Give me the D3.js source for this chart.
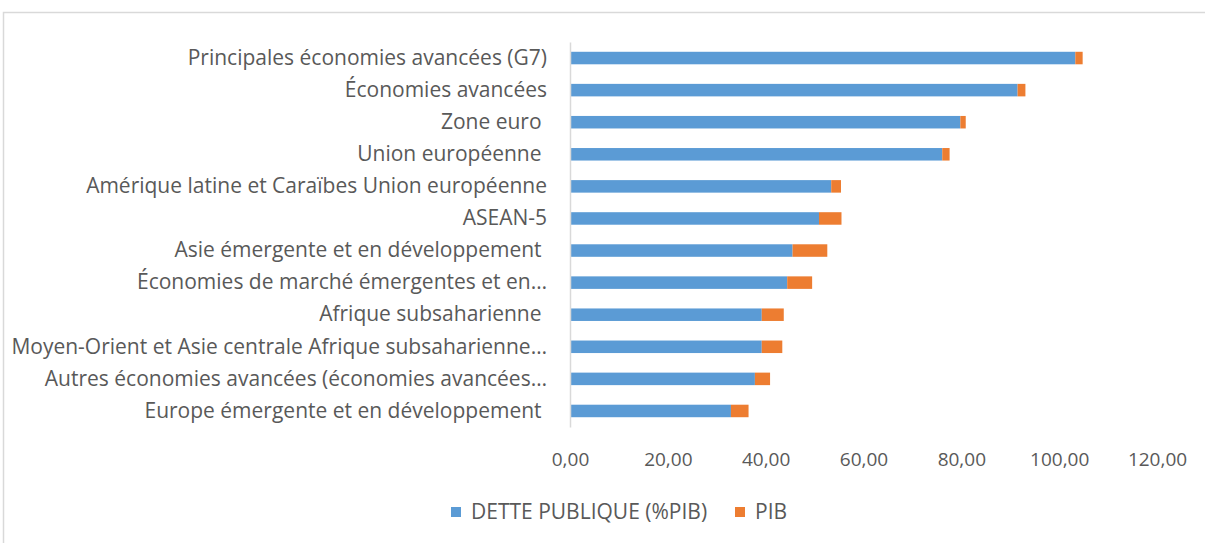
<!DOCTYPE html>
<html lang="fr">
<head>
<meta charset="utf-8">
<script src="https://d3js.org/d3.v7.min.js"></script>
<style>
  body { margin: 0; background: #fff; }
  svg text { font-family: "Open Sans", "Noto Sans", sans-serif; fill: #595959; }
</style>
</head>
<body>
<script>
// categories, top to bottom
const categories = [
  "Principales économies avancées (G7)",
  "Économies avancées",
  "Zone euro ",
  "Union européenne ",
  "Amérique latine et Caraïbes Union européenne",
  "ASEAN-5",
  "Asie émergente et en développement ",
  "Économies de marché émergentes et en…",
  "Afrique subsaharienne ",
  "Moyen-Orient et Asie centrale Afrique subsaharienne…",
  "Autres économies avancées (économies avancées…",
  "Europe émergente et en développement "
];
// DETTE PUBLIQUE (%PIB)
const dette = [103.3, 91.5, 79.8, 76.1, 53.4, 50.9, 45.5, 44.4, 39.2, 39.2, 37.8, 32.9];
// PIB
const pib = [1.5, 1.6, 1.1, 1.5, 2.0, 4.6, 7.1, 5.1, 4.5, 4.2, 3.1, 3.6];
const xTicks = [0, 20, 40, 60, 80, 100, 120];
const seriesNames = ["DETTE PUBLIQUE (%PIB)", "PIB"];
const colors = ["#5B9BD5", "#ED7D31"];

const width = 1205, height = 543;

const svg = d3.select("body").append("svg")
  .attr("width", width)
  .attr("height", height);

// chart frame
svg.append("rect")
  .attr("x", 3.5).attr("y", 12.5)
  .attr("width", width + 10).attr("height", height + 10)
  .attr("fill", "#fff")
  .attr("stroke", "#d9d9d9")
  .attr("stroke-width", 1.5);

const x = d3.scaleLinear().domain([0, 120]).range([570, 1157]);
const y = d3.scaleBand().domain(categories).range([42, 427])
  .paddingInner(0.61).paddingOuter(0.305);

const rows = categories.map((c, i) => ({ cat: c, dette: dette[i], pib: pib[i] }));
const stacked = d3.stack().keys(["dette", "pib"])(rows);

svg.append("g").selectAll("g")
  .data(stacked)
  .join("g")
  .attr("fill", (d, i) => colors[i])
  .selectAll("rect")
  .data(d => d)
  .join("rect")
  .attr("x", d => x(d[0]))
  .attr("y", d => y(d.data.cat))
  .attr("width", d => x(d[1]) - x(d[0]))
  .attr("height", y.bandwidth());

// category axis
const yAxis = svg.append("g")
  .attr("transform", `translate(${x(0)},0)`)
  .call(d3.axisLeft(y).tickSize(0).tickPadding(23));
yAxis.select(".domain").attr("stroke", "#d9d9d9").attr("stroke-width", 1.5);
yAxis.selectAll("text")
  .attr("font-size", 21)
  .style("white-space", "pre")
  .attr("font-family", null);

// value axis (labels only)
const fr = d3.formatLocale({ decimal: ",", thousands: " ", grouping: [3], currency: ["", " €"] });
const xAxis = svg.append("g")
  .attr("transform", "translate(0,449)")
  .call(d3.axisBottom(x).tickValues(xTicks).tickFormat(fr.format(".2f")).tickSize(0));
xAxis.select(".domain").remove();
xAxis.selectAll("text").attr("font-size", 19).attr("font-family", null);

// legend
const legendX = [451, 735];
const legend = svg.append("g").selectAll("g")
  .data(seriesNames)
  .join("g")
  .attr("transform", (d, i) => `translate(${legendX[i]},507)`);
legend.append("rect")
  .attr("width", 10).attr("height", 10)
  .attr("fill", (d, i) => colors[i]);
legend.append("text")
  .attr("x", 20).attr("y", 12)
  .attr("font-size", 21)
  .text(d => d);
</script>
</body>
</html>
